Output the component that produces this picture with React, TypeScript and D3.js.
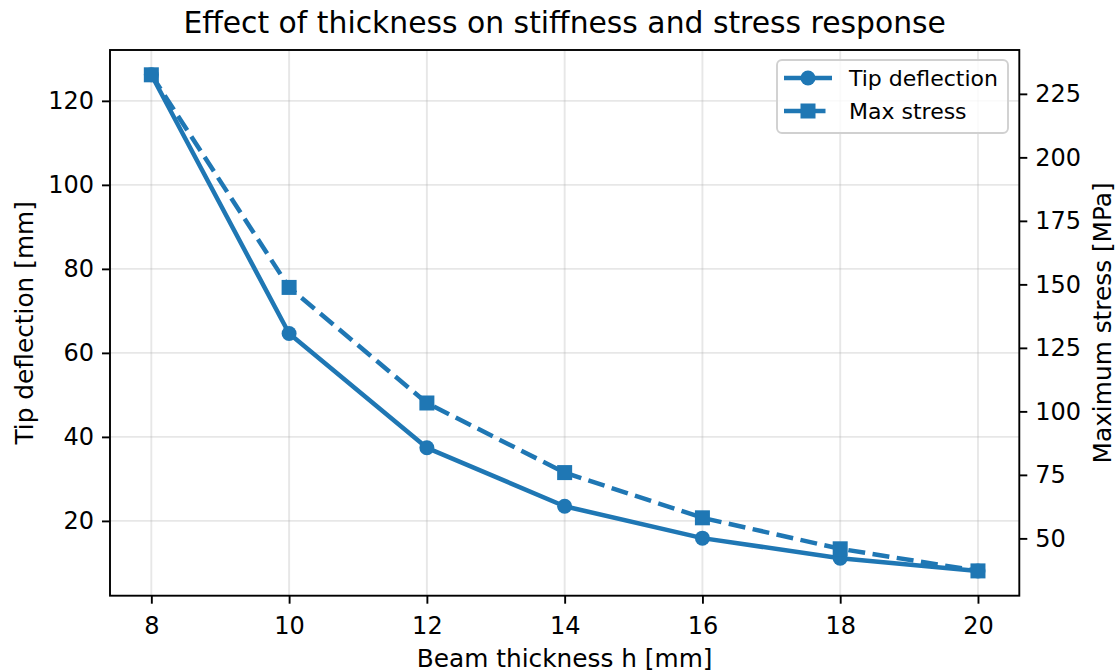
import React, { useEffect, useRef } from 'react';
import * as d3 from 'd3';

// beam thickness h [mm]
const thickness = [8, 10, 12, 14, 16, 18, 20];
// tip deflection [mm]
const deflection = [126.2, 64.6, 37.4, 23.5, 15.9, 11.1, 8.1];
// max stress [MPa]
const stress = [232.5, 148.8, 103.3, 75.9, 58.1, 45.9, 37.2];

const xTicks = [8, 10, 12, 14, 16, 18, 20];
const leftTicks = [20, 40, 60, 80, 100, 120];
const rightTicks = [50, 75, 100, 125, 150, 175, 200, 225];

const W = 1119;
const H = 672;
const C = '#1f77b4';
const FONT = '"DejaVu Sans", sans-serif';

function App() {
  const ref = useRef<SVGSVGElement>(null);

  useEffect(() => {
    const svg = d3.select(ref.current);
    svg.selectAll('*').remove();

    const left = 110, right = 1019.3, top = 50, bottom = 595.7;

    // matplotlib-like 5% margins
    const pad = (lo: number, hi: number) => [lo - (hi - lo) * 0.05, hi + (hi - lo) * 0.05];
    const x = d3.scaleLinear().domain(pad(8, 20)).range([left, right]);
    const yL = d3.scaleLinear().domain(pad(d3.min(deflection)!, d3.max(deflection)!)).range([bottom, top]);
    const yR = d3.scaleLinear().domain(pad(d3.min(stress)!, d3.max(stress)!)).range([bottom, top]);

    svg.append('rect').attr('width', W).attr('height', H).attr('fill', '#fff');

    // grid
    const grid = svg.append('g').attr('stroke', '#b0b0b0').attr('stroke-opacity', 0.3).attr('stroke-width', 1.9);
    xTicks.forEach((t) => {
      grid.append('line').attr('x1', x(t)).attr('x2', x(t)).attr('y1', top).attr('y2', bottom);
    });
    leftTicks.forEach((t) => {
      grid.append('line').attr('x1', left).attr('x2', right).attr('y1', yL(t)).attr('y2', yL(t));
    });

    // axes
    const axX = svg.append('g').attr('transform', `translate(0,${bottom})`)
      .call(d3.axisBottom(x).tickValues(xTicks).tickSize(8).tickPadding(8).tickFormat(d3.format('d')));
    const axL = svg.append('g').attr('transform', `translate(${left},0)`)
      .call(d3.axisLeft(yL).tickValues(leftTicks).tickSize(8).tickPadding(8).tickFormat(d3.format('d')));
    const axR = svg.append('g').attr('transform', `translate(${right},0)`)
      .call(d3.axisRight(yR).tickValues(rightTicks).tickSize(8).tickPadding(8).tickFormat(d3.format('d')));
    [axX, axL, axR].forEach((a) => {
      a.select('.domain').remove();
      a.selectAll('line').attr('stroke', '#000').attr('stroke-width', 1.9);
      a.selectAll('text').attr('font-family', FONT).attr('font-size', 24).attr('fill', '#000');
    });
    axX.selectAll('text').attr('dy', '0.95em');

    // frame
    svg.append('rect').attr('x', left).attr('y', top).attr('width', right - left).attr('height', bottom - top)
      .attr('fill', 'none').attr('stroke', '#000').attr('stroke-width', 1.9);

    // lines
    const lineDef = d3.line<number>().x((_, i) => x(thickness[i])).y((d) => yL(d));
    const lineStr = d3.line<number>().x((_, i) => x(thickness[i])).y((d) => yR(d));

    svg.append('path').datum(deflection).attr('d', lineDef).attr('fill', 'none')
      .attr('stroke', C).attr('stroke-width', 4.5).attr('stroke-linejoin', 'round').attr('stroke-linecap', 'butt');
    svg.append('g').selectAll('circle').data(deflection).enter().append('circle')
      .attr('cx', (_, i) => x(thickness[i])).attr('cy', (d) => yL(d)).attr('r', 7.5).attr('fill', C);

    svg.append('path').datum(stress).attr('d', lineStr).attr('fill', 'none')
      .attr('stroke', C).attr('stroke-width', 4.5).attr('stroke-dasharray', '17,7.5');
    svg.append('g').selectAll('rect').data(stress).enter().append('rect')
      .attr('x', (_, i) => x(thickness[i]) - 7.5).attr('y', (d) => yR(d) - 7.5)
      .attr('width', 15).attr('height', 15).attr('fill', C);

    // title & labels
    svg.append('text').attr('x', (left + right) / 2).attr('y', 33).attr('text-anchor', 'middle')
      .attr('font-family', FONT).attr('font-size', 29.8).text('Effect of thickness on stiffness and stress response');
    svg.append('text').attr('x', (left + right) / 2).attr('y', 667).attr('text-anchor', 'middle')
      .attr('font-family', FONT).attr('font-size', 24.8).text('Beam thickness h [mm]');
    svg.append('text').attr('transform', `translate(33,${(top + bottom) / 2}) rotate(-90)`).attr('text-anchor', 'middle')
      .attr('font-family', FONT).attr('font-size', 24.8).text('Tip deflection [mm]');
    svg.append('text').attr('transform', `translate(1094,${(top + bottom) / 2}) rotate(-90)`).attr('text-anchor', 'middle')
      .attr('dy', '0.7em')
      .attr('font-family', FONT).attr('font-size', 24.8).text('Maximum stress [MPa]');

    // legend
    const lg = svg.append('g');
    lg.append('rect').attr('x', 777).attr('y', 60).attr('width', 231).attr('height', 73).attr('rx', 5)
      .attr('fill', '#fff').attr('fill-opacity', 0.8).attr('stroke', '#d0d0d0').attr('stroke-width', 1.9);
    const rows = [
      { label: 'Tip deflection', dash: null, marker: 'circle', y: 78 },
      { label: 'Max stress', dash: '17,7.5', marker: 'square', y: 111 },
    ];
    rows.forEach((r) => {
      const l = lg.append('line').attr('x1', 784).attr('x2', 832).attr('y1', r.y).attr('y2', r.y)
        .attr('stroke', C).attr('stroke-width', 4.5);
      if (r.dash) l.attr('stroke-dasharray', r.dash);
      if (r.marker === 'circle') {
        lg.append('circle').attr('cx', 808).attr('cy', r.y).attr('r', 7.5).attr('fill', C);
      } else {
        lg.append('rect').attr('x', 800.5).attr('y', r.y - 7.5).attr('width', 15).attr('height', 15).attr('fill', C);
      }
      lg.append('text').attr('x', 849).attr('y', r.y).attr('dy', '0.35em')
        .attr('font-family', FONT).attr('font-size', 22).text(r.label);
    });
  }, []);

  return (
    <svg ref={ref} width={W} height={H} style={{ position: 'absolute', left: 0, top: 0 }}></svg>
  );
}

export default App;
